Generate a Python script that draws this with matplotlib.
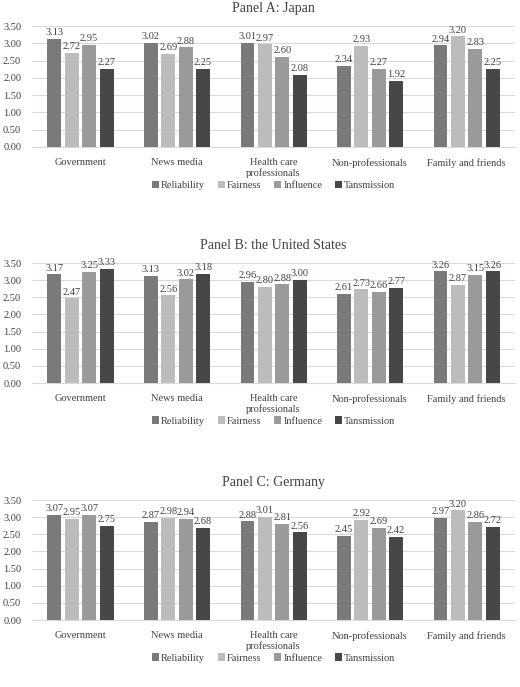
import numpy as np
import matplotlib.pyplot as plt

plt.rcParams['font.family'] = ['Liberation Serif', 'DejaVu Serif']

categories = ['Government', 'News media', 'Health care\nprofessionals', 'Non-professionals', 'Family and friends']
series = ['Reliability', 'Fairness', 'Influence', 'Tansmission']
colors = ['#7a7a7a', '#bcbcbc', '#9a9a9a', '#474747']

titles = ['Panel A: Japan', 'Panel B: the United States', 'Panel C: Germany']
japan = [[3.13, 3.02, 3.01, 2.34, 2.94],
         [2.72, 2.69, 2.97, 2.93, 3.20],
         [2.95, 2.88, 2.60, 2.27, 2.83],
         [2.27, 2.25, 2.08, 1.92, 2.25]]
usa = [[3.17, 3.13, 2.96, 2.61, 3.26],
       [2.47, 2.56, 2.80, 2.73, 2.87],
       [3.25, 3.02, 2.88, 2.66, 3.15],
       [3.33, 3.18, 3.00, 2.77, 3.26]]
germany = [[3.07, 2.87, 2.88, 2.45, 2.97],
           [2.95, 2.98, 3.01, 2.92, 3.20],
           [3.07, 2.94, 2.81, 2.69, 2.86],
           [2.75, 2.68, 2.56, 2.42, 2.72]]
panels = [japan, usa, germany]

fig = plt.figure(figsize=(5.2, 6.87), dpi=100)
H = 687
tops = [26, 263, 500]
bots = [147, 383, 620]
x = np.arange(len(categories))
w = 0.18
for p, data in enumerate(panels):
    ax = fig.add_axes([0.062, 1 - bots[p] / H, 0.928, (bots[p] - tops[p]) / H])
    for i, vals in enumerate(data):
        pos = x + (i - 1.5) * w
        bars = ax.bar(pos, vals, w * 0.8, color=colors[i], label=series[i], zorder=3)
        for xx, v in zip(pos, vals):
            ax.text(xx, v + 0.05, f'{v:.2f}', ha='center', va='bottom', fontsize=7.5, color='#404040')
    ax.set_ylim(0, 3.5)
    ax.set_yticks(np.arange(0, 3.51, 0.5))
    ax.set_yticklabels([f'{t:.2f}' for t in np.arange(0, 3.51, 0.5)])
    ax.set_xlim(-0.5, 4.5)
    ax.set_xticks(x)
    ax.set_xticklabels(categories)
    ax.grid(axis='y', color='#d9d9d9', lw=0.8, zorder=0)
    for s in ['top', 'right', 'left']:
        ax.spines[s].set_visible(False)
    ax.spines['bottom'].set_color('#d9d9d9')
    ax.tick_params(length=0, labelsize=7.5, colors='#404040', pad=8)
    ax.set_title(titles[p], fontsize=10, color='#404040', pad=10)
    ax.legend(loc='upper center', bbox_to_anchor=(0.5, -0.2), ncol=4, frameon=False,
              fontsize=7.5, handlelength=0.7, handleheight=0.7, columnspacing=1.2,
              handletextpad=0.2, labelcolor='#404040')

fig.savefig('out.png')
